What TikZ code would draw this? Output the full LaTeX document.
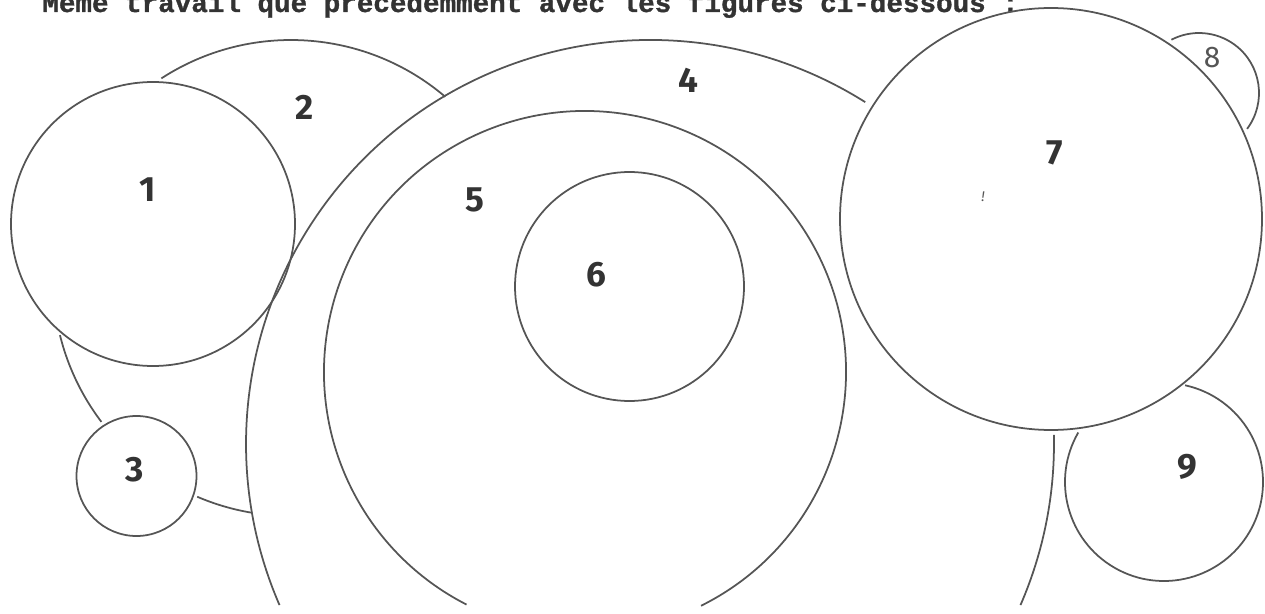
\documentclass[tikz,border=0pt]{standalone}
\usepackage{fontspec}
\setmainfont{Fira Sans}
\newfontfamily\monofam[FakeBold=1.2]{Liberation Mono}
\definecolor{ink}{HTML}{555555}
\definecolor{txt}{HTML}{333333}
\begin{document}
\begin{tikzpicture}[x=0.02cm,y=0.02cm,
  outline/.style={draw=ink, line width=1pt},
  num/.style={text=txt, font=\fontsize{20}{20}\selectfont\bfseries, inner sep=0pt},
  thinnum/.style={text=ink, font=\fontsize{17}{17}\selectfont, inner sep=0pt}]
\useasboundingbox (0,0) rectangle (1265,613);
\clip (0,0) rectangle (1265,613);
% title (top cut off, as in the scan)
\node[anchor=base west, inner sep=0pt, text=txt,
  font=\monofam\fontsize{15.7}{16}\selectfont\bfseries] (title) at (42,601)
  {Même travail que précédemment avec les figures ci-dessous :};
% circle 1
\draw[outline] (153,389) circle[radius=142];
% circle 2 (visible arcs)
\draw[outline] (291,335) ++(49.6:238) arc[start angle=49.6, end angle=123, radius=238];
\draw[outline] (291,335) ++(193.9:238) arc[start angle=193.9, end angle=217.2, radius=238];
\draw[outline] (291,335) ++(246.8:238) arc[start angle=246.8, end angle=260.5, radius=238];
% circle 3
\draw[outline] (136.5,137) circle[radius=60];
% circle 4
\draw[outline] (650,169) ++(57.8:404) arc[start angle=57.8, end angle=203.5, radius=404];
\draw[outline] (650,169) ++(-23.5:404) arc[start angle=-23.5, end angle=1.3, radius=404];
% circle 5
\draw[outline] (585,241) ++(-63.6:261) arc[start angle=-63.6, end angle=243, radius=261];
% circle 6
\draw[outline] (629.5,326.5) circle[radius=114.5];
% circle 7
\draw[outline] (1051,394) circle[radius=211];
% circle 8
\draw[outline] (1199,520) ++(-36.7:60) arc[start angle=-36.7, end angle=117.4, radius=60];
% circle 9
\draw[outline] (1164,131) ++(150:99) arc[start angle=150, end angle=437.7, radius=99];
% labels
\node[num] (n1) at (148,423) {1};
\node[num] (n2) at (305,506) {2};
\node[num] (n3) at (135,143) {3};
\node[num] (n4) at (688,533) {4};
\node[num] (n5) at (475,413) {5};
\node[num] (n6) at (596,338) {6};
\node[num] (n7) at (1055,460) {7};
\node[thinnum] (n8) at (1212,555) {8};
\node[num] (n9) at (1187,146) {9};
\node[text=ink, inner sep=0pt, font=\fontsize{8}{8}\selectfont\itshape] (mark) at (983,416) {!};
\end{tikzpicture}
\end{document}
